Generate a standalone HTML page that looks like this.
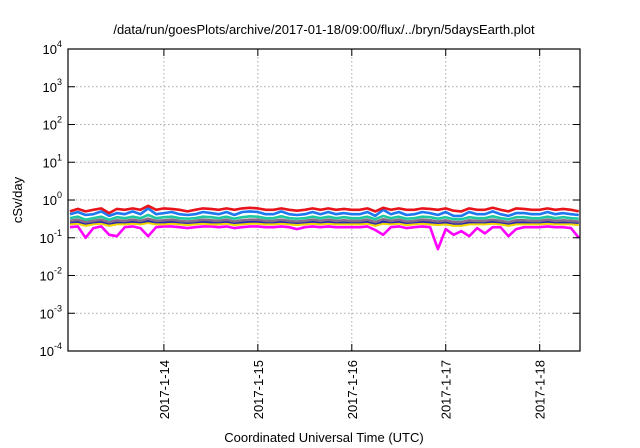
<!DOCTYPE html>
<html><head><meta charset="utf-8"><style>
body{margin:0;background:#fff;}
svg{display:block;font-family:"Liberation Sans",sans-serif;}
</style></head><body>
<svg id="chart" width="640" height="448" viewBox="0 0 640 448">
<text x="324" y="34" font-size="13" text-anchor="middle">/data/run/goesPlots/archive/2017-01-18/09:00/flux/../bryn/5daysEarth.plot</text>
<g id="grid"></g>
<g id="series"></g>
<rect x="68" y="49" width="512" height="302" fill="none" stroke="#000" stroke-width="1.2"/>
<g id="ticks"></g>
<text transform="translate(22,200) rotate(-90)" font-size="13" text-anchor="middle">cSv/day</text>
<text x="324" y="442" font-size="13" text-anchor="middle">Coordinated Universal Time (UTC)</text>
</svg>
<script>
const yDecades=[-4,-3,-2,-1,0,1,2,3,4];
const dayLabels=["2017-1-14","2017-1-15","2017-1-16","2017-1-17","2017-1-18"];
const dayHours=[24,48,72,96,120];
const hours=[0,2,4,6,8,10,12,14,16,18,20,22,24,26,28,30,32,34,36,38,40,42,44,46,48,50,52,54,56,58,60,62,64,66,68,70,72,74,76,78,80,82,84,86,88,90,92,94,96,98,100,102,104,106,108,110,112,114,116,118,120,122,124,126,128,130];
const red=[0.5,0.58,0.5,0.55,0.6,0.45,0.58,0.55,0.6,0.55,0.7,0.55,0.6,0.58,0.55,0.5,0.55,0.6,0.58,0.55,0.6,0.55,0.6,0.62,0.6,0.55,0.55,0.6,0.55,0.52,0.55,0.6,0.55,0.6,0.55,0.58,0.55,0.55,0.6,0.5,0.62,0.55,0.6,0.55,0.55,0.6,0.58,0.55,0.6,0.52,0.5,0.6,0.55,0.55,0.62,0.55,0.5,0.6,0.58,0.55,0.55,0.6,0.55,0.58,0.55,0.5];
const blue=[0.42,0.48,0.4,0.42,0.5,0.38,0.45,0.42,0.5,0.42,0.6,0.42,0.45,0.48,0.42,0.4,0.42,0.48,0.45,0.42,0.48,0.4,0.48,0.5,0.48,0.42,0.42,0.5,0.42,0.4,0.42,0.48,0.42,0.48,0.42,0.45,0.42,0.42,0.48,0.38,0.55,0.42,0.48,0.4,0.42,0.48,0.45,0.4,0.48,0.38,0.38,0.48,0.42,0.42,0.5,0.42,0.38,0.45,0.45,0.42,0.42,0.48,0.42,0.45,0.42,0.4];
const teal=[0.33,0.36,0.3,0.33,0.36,0.3,0.35,0.33,0.36,0.33,0.4,0.33,0.35,0.36,0.33,0.32,0.33,0.36,0.35,0.33,0.36,0.32,0.35,0.37,0.36,0.33,0.33,0.37,0.33,0.32,0.33,0.36,0.33,0.36,0.33,0.35,0.33,0.33,0.36,0.31,0.38,0.33,0.36,0.32,0.33,0.36,0.35,0.32,0.35,0.31,0.31,0.35,0.33,0.33,0.37,0.33,0.31,0.35,0.35,0.33,0.33,0.36,0.33,0.35,0.33,0.32];
const purple=[0.28,0.3,0.26,0.28,0.3,0.26,0.29,0.28,0.3,0.28,0.32,0.28,0.29,0.3,0.28,0.27,0.28,0.3,0.29,0.28,0.3,0.27,0.29,0.3,0.3,0.28,0.28,0.3,0.28,0.27,0.28,0.3,0.28,0.3,0.28,0.29,0.28,0.28,0.3,0.26,0.31,0.28,0.3,0.27,0.28,0.3,0.29,0.27,0.29,0.26,0.26,0.29,0.28,0.28,0.3,0.28,0.26,0.29,0.29,0.28,0.28,0.3,0.28,0.29,0.28,0.27];
const navy=[0.26,0.27,0.24,0.26,0.27,0.24,0.26,0.26,0.27,0.26,0.28,0.26,0.26,0.27,0.26,0.25,0.26,0.27,0.26,0.26,0.27,0.25,0.26,0.27,0.27,0.26,0.26,0.27,0.26,0.25,0.26,0.27,0.26,0.27,0.26,0.26,0.26,0.26,0.27,0.24,0.27,0.26,0.27,0.25,0.26,0.27,0.26,0.25,0.26,0.24,0.24,0.26,0.26,0.26,0.27,0.26,0.24,0.26,0.26,0.26,0.26,0.27,0.26,0.26,0.26,0.25];
const yellow=[0.23,0.24,0.21,0.23,0.24,0.21,0.23,0.23,0.24,0.23,0.25,0.23,0.23,0.24,0.23,0.22,0.23,0.24,0.23,0.23,0.24,0.22,0.23,0.24,0.24,0.23,0.23,0.24,0.23,0.22,0.23,0.24,0.23,0.24,0.23,0.23,0.23,0.23,0.24,0.21,0.24,0.23,0.24,0.22,0.23,0.24,0.23,0.22,0.23,0.21,0.21,0.23,0.23,0.23,0.24,0.23,0.21,0.23,0.23,0.23,0.23,0.24,0.23,0.23,0.23,0.22];
const magenta=[0.19,0.2,0.1,0.18,0.2,0.12,0.11,0.19,0.2,0.18,0.11,0.19,0.2,0.2,0.19,0.18,0.19,0.2,0.2,0.19,0.2,0.18,0.19,0.2,0.2,0.19,0.19,0.2,0.19,0.17,0.19,0.2,0.19,0.2,0.19,0.19,0.19,0.19,0.2,0.16,0.12,0.19,0.2,0.18,0.19,0.2,0.19,0.05,0.17,0.12,0.15,0.11,0.18,0.13,0.19,0.19,0.11,0.17,0.19,0.19,0.19,0.2,0.19,0.19,0.18,0.1];
const seriesList=[["magenta",magenta,"#ff00ff"],["yellow",yellow,"#f2d600"],["navy",navy,"#2a2ab0"],["purple",purple,"#8a6a8a"],["teal",teal,"#20c8a0"],["blue",blue,"#1e78f0"],["red",red,"#e8141c"]];
const NS="http://www.w3.org/2000/svg";
const L=68,R=580,T=49,B=351,H0=-0.5,H1=130.3;
function xs(h){return L+(h-H0)/(H1-H0)*(R-L);}
function ys(v){return B-(Math.log10(v)-(-4))/8*(B-T);}
function mk(tag,at,p){const e=document.createElementNS(NS,tag);for(const k in at)e.setAttribute(k,at[k]);p.appendChild(e);return e;}
const grid=document.getElementById('grid'),ticks=document.getElementById('ticks'),ser=document.getElementById('series');
yDecades.forEach(d=>{
  const y=ys(Math.pow(10,d));
  if(d>-4&&d<4){const g=mk('line',{x1:L,x2:R,y1:y,y2:y,stroke:'#aaa','stroke-dasharray':'1.5,2.5','stroke-width':1},grid);
  
  }
  const t1=mk('line',{x1:L,x2:L+7,y1:y,y2:y,stroke:'#000'},ticks);
  
  
  const t2=mk('line',{x1:R-7,x2:R,y1:y,y2:y,stroke:'#000'},ticks);
  
  
  const tx=mk('text',{x:L-10,y:y+5,'font-size':13,'text-anchor':'end'},ticks);
  
  
  tx.textContent='10';
  const sp=mk('tspan',{dy:-7,'font-size':9},tx);sp.textContent=String(d);
  const tx2=mk('text',{x:L-10-(String(d).length*5),y:y+5,'font-size':13,'text-anchor':'end'},ticks);
  tx.removeChild(tx.firstChild);tx.insertBefore(document.createTextNode('10'),sp);
  tx.setAttribute('x',L-4-String(d).length*5.5);
  tx.setAttribute('text-anchor','end');
  tx.textContent='';
  const a=document.createTextNode('10');tx.appendChild(a);tx.appendChild(sp);
  tx.setAttribute('text-anchor','end');tx.setAttribute('x',L-6);
  ticks.removeChild(tx2);
});
dayHours.forEach((h,i)=>{
  const x=xs(h);
  const g=mk('line',{x1:x,x2:x,y1:T,y2:B,stroke:'#aaa','stroke-dasharray':'1.5,2.5','stroke-width':1},grid);
  
  
  const t1=mk('line',{x1:x,x2:x,y1:B-7,y2:B,stroke:'#000'},ticks);
  
  
  const t2=mk('line',{x1:x,x2:x,y1:T,y2:T+7,stroke:'#000'},ticks);
  
  
  const tx=mk('text',{transform:`translate(${x+5},${B+9}) rotate(-90)`,'font-size':13,'text-anchor':'end'},ticks);
  
  
  tx.textContent=dayLabels[i];
});
seriesList.forEach(s=>{
  const pts=hours.map((h,i)=>xs(h).toFixed(1)+','+ys(s[1][i]).toFixed(1)).join(' ');
  const p=mk('polyline',{points:pts,fill:'none',stroke:s[2],'stroke-width':2.6,'stroke-linejoin':'round'},ser);
  
  
});
</script>
</body></html>
